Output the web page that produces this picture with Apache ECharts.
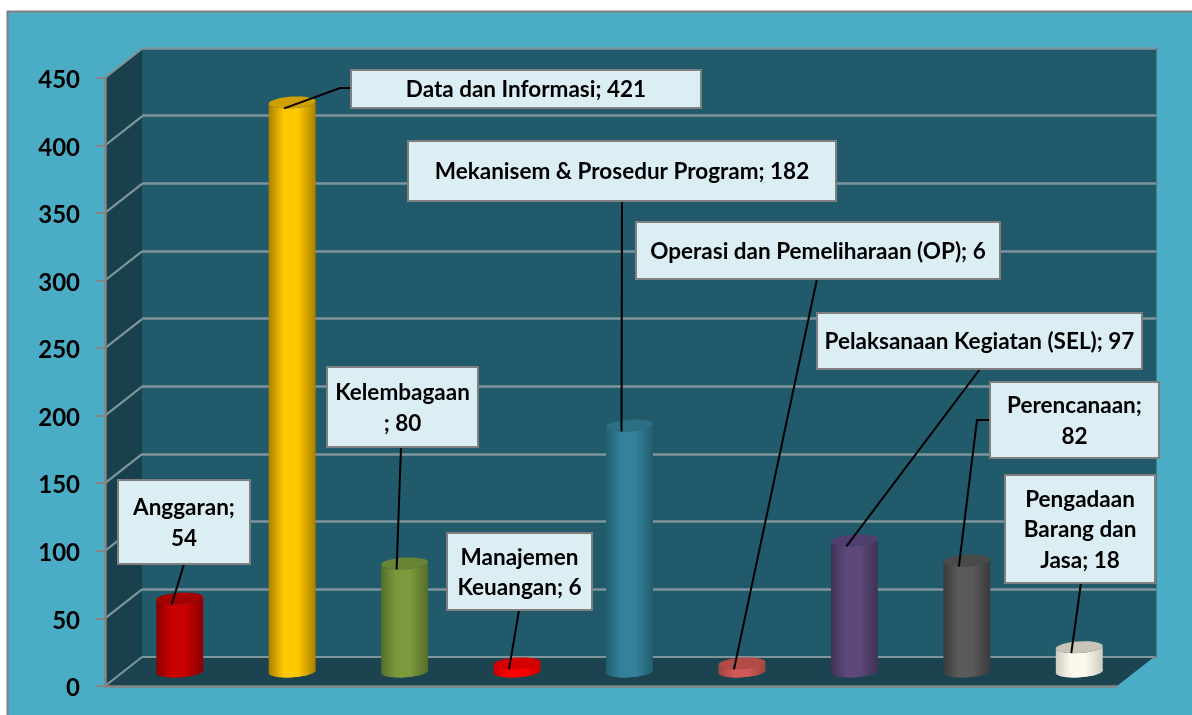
<!DOCTYPE html>
<html><head><meta charset="utf-8">
<style>html,body{margin:0;padding:0;background:#fff}#c{width:1192px;height:715px}</style>
<script src="https://cdn.jsdelivr.net/npm/echarts@6/dist/echarts.min.js"></script>
</head><body><div id="c"></div>
<script>
const categories = ["Anggaran","Data dan Informasi","Kelembagaan","Manajemen Keuangan","Mekanisem & Prosedur Program","Operasi dan Pemeliharaan (OP)","Pelaksanaan Kegiatan (SEL)","Perencanaan","Pengadaan Barang dan Jasa"];
const values = [54,421,80,6,182,6,97,82,18];
const labelTexts = ["Anggaran;\n54","Data dan Informasi; 421","Kelembagaan\n; 80","Manajemen\nKeuangan; 6","Mekanisem & Prosedur Program; 182","Operasi dan Pemeliharaan (OP); 6","Pelaksanaan Kegiatan (SEL); 97","Perencanaan;\n82","Pengadaan\nBarang dan\nJasa; 18"];
const yTicks = [0,50,100,150,200,250,300,350,400,450];

// style tables: [centre, edge, top]
const barColors = [
 ['#c80000','#8a0000','#a30000'],['#ffc800','#a98000','#cf9f00'],['#7a9a3c','#566d2a','#688434'],
 ['#ff0000','#c80000','#d60000'],['#33829b','#225e70','#2a6f84'],['#cf5955','#a04340','#b04b48'],
 ['#5d4879','#3f3254','#4f3e6e'],['#5a5a5a','#3a3a3a','#4a4a4a'],['#fbf8ee','#cfccc2','#c9c5b8']];
// callout boxes [x, y, w, h] and optional elbow x,y
const boxes = [[118,480,132,84],[351,70,350,38],[327,367,151,80],[447,533,145,77],[408,141,428,60],[636,222,364,57],[817,313,325,56],[990,382,169,76],[1005,475,150,108]];
const leaderEnds = [[184,564],[351,88],[401,447],[519,610],[622,201],[817,279],[980,369],[990,420],[1081,583]];
const elbows = [null,[340,88],null,null,null,null,null,[977,420],null];

const DX = 37, DY = -29, RX = 23.5, RY = 5.8, TILT = -0.06;
const GRID_LINE = '#7e959b', AXIS = '#858585';

function ell(cx, cy, a0, a1) {
  const pts = [], n = 28, c = Math.cos(TILT), s = Math.sin(TILT);
  for (let i = 0; i <= n; i++) {
    const a = a0 + (a1 - a0) * i / n, x = RX * Math.cos(a), y = RY * Math.sin(a);
    pts.push([cx + x * c - y * s, cy + x * s + y * c]);
  }
  return pts;
}

function renderWalls(params, api) {
  const cs = params.coordSys, kids = [];
  const x0 = cs.x, y0 = cs.y + cs.height, x1 = cs.x + cs.width, yT = cs.y;
  kids.push({type:'polygon',shape:{points:[[x0,yT],[x0+DX,yT+DY],[x0+DX,y0+DY],[x0,y0]]},style:{fill:'#18404d'}});
  kids.push({type:'polygon',shape:{points:[[x0,y0],[x1,y0],[x1+DX,y0+DY],[x0+DX,y0+DY]]},style:{fill:'#1b4450'}});
  yTicks.forEach(v => {
    const y = api.coord([0, v])[1];
    kids.push({type:'line',shape:{x1:x0,y1:y,x2:x0+DX,y2:y+DY},style:{stroke:GRID_LINE,lineWidth:2.2}});
  });
  kids.push({type:'line',shape:{x1:x0+DX,y1:y0+DY,x2:x1+DX,y2:y0+DY},style:{stroke:GRID_LINE,lineWidth:2.2}});
  return {type:'group',children:kids};
}

function renderCyl(params, api) {
  const i = api.value(0), v = api.value(1);
  const base = api.coord([i, 0]), top = api.coord([i, v]);
  const cx = base[0] + DX / 2, by = base[1] + DY / 2, ty = top[1] + DY / 2;
  const col = barColors[i];
  const body = ell(cx, by, Math.PI, 0).concat(ell(cx, ty, 0, Math.PI));
  const grad = {type:'linear',x:0,y:0,x2:1,y2:0,colorStops:[
    {offset:0,color:col[1]},{offset:0.32,color:col[0]},{offset:0.62,color:col[0]},{offset:1,color:col[1]}]};
  return {type:'group',children:[
    {type:'polygon',shape:{points:ell(cx, by, 0, Math.PI*2)},style:{fill:grad}},
    {type:'polygon',shape:{points:body},style:{fill:grad}},
    {type:'polygon',shape:{points:ell(cx, ty, 0, Math.PI*2)},style:{fill:col[2]}}
  ]};
}

function renderLeader(params, api) {
  const i = api.value(0), v = api.value(1);
  const top = api.coord([i, v]), base = api.coord([i, 0]);
  const a = [base[0] + DX/2 - 8, top[1] + DY/2 + 6];
  const pts = [a]; if (elbows[i]) pts.push(elbows[i]); pts.push(leaderEnds[i]);
  return {type:'polyline',shape:{points:pts},style:{stroke:'#000',lineWidth:2,fill:null}};
}

function renderBox(params, api) {
  const i = api.value(0), b = boxes[i];
  return {type:'group',children:[
    {type:'rect',shape:{x:b[0],y:b[1],width:b[2],height:b[3]},style:{fill:'#daeef3',stroke:'#7f7f7f',lineWidth:2}},
    {type:'text',style:{text:labelTexts[i],x:b[0]+b[2]/2,y:b[1]+b[3]/2+1,align:'center',verticalAlign:'middle',
      fill:'#000',font:'bold 22.5px Lato',lineHeight:30.5}}
  ]};
}

const pairs = values.map((v, i) => [i, v]);
const chart = echarts.init(document.getElementById('c'), null, {renderer:'canvas'});
chart.setOption({
  animation:false,
  backgroundColor:'#fff',
  graphic:[{type:'rect',z:-10,shape:{x:7.5,y:11.5,width:1200,height:720},style:{fill:'#4bacc6',stroke:'#7f7f7f',lineWidth:2}}],
  grid:[
    {left:105,top:77.7,width:1012,height:608.3,show:false},
    {left:142,top:48,width:1014,height:609,show:true,backgroundColor:'#215a6a',borderWidth:0,z:-5}
  ],
  xAxis:[
    {type:'category',gridIndex:0,data:categories,axisLabel:{show:false},axisTick:{show:false},
     axisLine:{show:true,lineStyle:{color:AXIS,width:2.5}},z:5},
    {type:'category',gridIndex:1,data:categories,show:false}
  ],
  yAxis:[
    {type:'value',gridIndex:0,min:0,max:450,interval:50,splitLine:{show:false},
     axisLine:{show:true,lineStyle:{color:AXIS,width:2.5}},
     axisTick:{show:true,length:9,lineStyle:{color:AXIS,width:2}},
     axisLabel:{margin:25,color:'#000',fontFamily:'Lato',fontWeight:'bold',fontSize:24,verticalAlign:'top',lineHeight:5},z:5},
    {type:'value',gridIndex:1,min:0,max:450,interval:50,position:'right',z:1,
     axisLabel:{show:false},axisTick:{show:false},
     axisLine:{show:true,lineStyle:{color:'#4d7a80',width:1}},
     splitLine:{show:true,lineStyle:{color:GRID_LINE,width:2.5}}}
  ],
  series:[
    {name:'walls',type:'custom',xAxisIndex:0,yAxisIndex:0,data:[[0,0]],renderItem:renderWalls,z:2,silent:true,clip:false},
    {name:'Jumlah',type:'custom',xAxisIndex:0,yAxisIndex:0,data:pairs,renderItem:renderCyl,z:3,clip:false},
    {name:'leaders',type:'custom',xAxisIndex:0,yAxisIndex:0,data:pairs,renderItem:renderLeader,z:4,clip:false,silent:true},
    {name:'labels',type:'custom',xAxisIndex:0,yAxisIndex:0,data:pairs,renderItem:renderBox,z:6,clip:false,silent:true}
  ]
});
</script></body></html>
